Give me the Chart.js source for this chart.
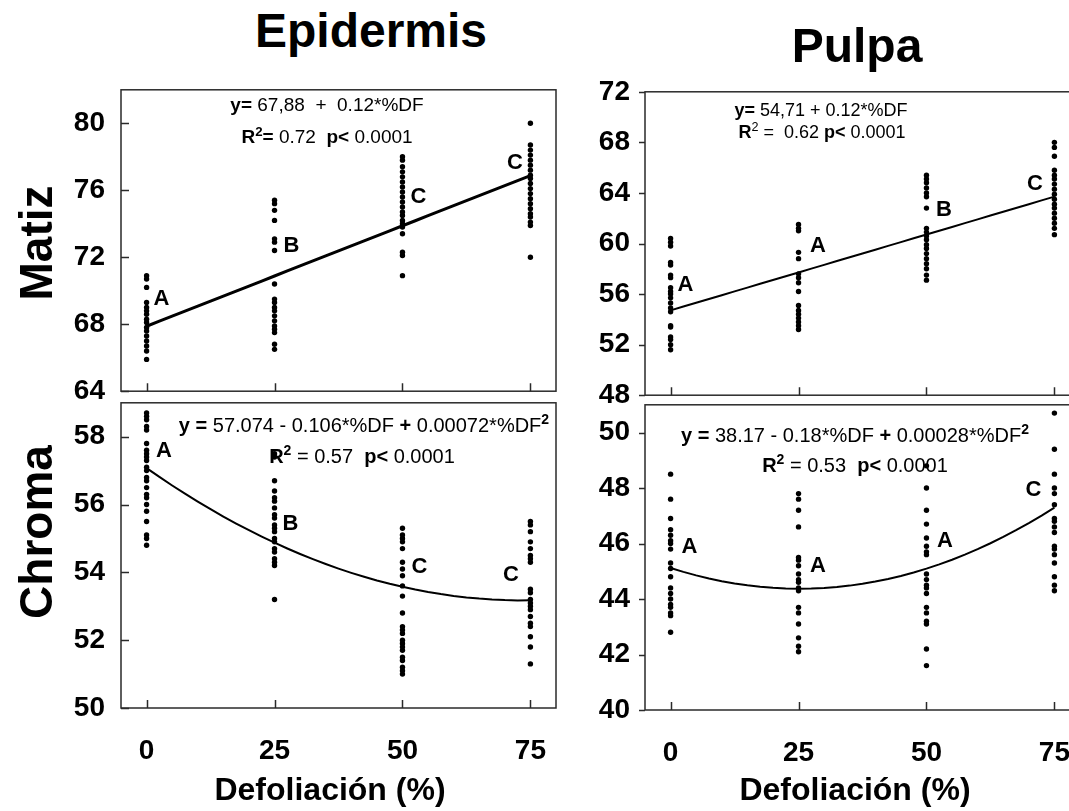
<!DOCTYPE html>
<html>
<head>
<meta charset="utf-8">
<script src="https://cdn.jsdelivr.net/npm/chart.js@4.4.1/dist/chart.umd.min.js"></script>
<style>
  body { margin: 0; background: #fff; }
  #page { position: relative; width: 1069px; height: 811px; overflow: hidden; background: #fff;
          font-family: "Liberation Sans", Arial, sans-serif; color: #000; }
  #page canvas { position: absolute; }
  .txt { position: absolute; line-height: 1; white-space: pre; transform: translateX(-50%); }
  .rot { position: absolute; line-height: 1; white-space: pre; font-weight: bold;
         transform: translate(-50%, -50%) rotate(-90deg); }
  .txt b, .rot b { font-weight: bold; }
  sup { font-size: 0.7em; vertical-align: 0.55em; line-height: 0; }
</style>
</head>
<body>
<div id="page"></div>
<script>
// Defoliation levels (%)
const doses = [0, 25, 50, 75];

// Matiz, epidermis (one list per defoliation level)
const epiMatiz = [
  [70.9, 70.7, 70.2, 69.3, 69.0, 68.8, 68.6, 68.3, 68.1, 67.8, 67.6, 67.3, 67.0, 66.7, 66.4, 65.9],
  [75.4, 75.2, 74.8, 74.2, 73.1, 72.9, 72.4, 70.4, 69.5, 69.3, 69.0, 68.8, 68.5, 68.2, 67.9, 67.7, 67.5, 66.8, 66.5],
  [78.0, 77.8, 77.4, 77.1, 76.8, 76.5, 76.2, 75.9, 75.6, 75.3, 75.0, 74.7, 74.5, 74.2, 74.0, 73.8, 73.4, 72.3, 72.1, 70.9],
  [80.0, 78.7, 78.4, 78.1, 77.8, 77.5, 77.2, 76.9, 76.7, 76.4, 76.1, 75.8, 75.5, 75.2, 74.9, 74.6, 74.4, 74.1, 73.9, 72.0]
];
// Chroma, epidermis
const epiChroma = [
  [58.7, 58.6, 58.5, 58.3, 58.2, 57.8, 57.6, 57.5, 57.4, 57.3, 57.1, 57.0, 56.8, 56.7, 56.5, 56.3, 56.2, 56.0, 55.8, 55.5, 55.1, 55.0, 54.8],
  [57.5, 57.4, 56.7, 56.4, 56.2, 56.1, 55.9, 55.7, 55.6, 55.4, 55.3, 55.2, 55.0, 54.9, 54.7, 54.6, 54.4, 54.3, 54.2, 53.2],
  [55.3, 55.1, 55.0, 54.9, 54.7, 54.3, 54.1, 53.9, 53.6, 53.3, 52.8, 52.4, 52.3, 52.2, 52.0, 51.9, 51.8, 51.7, 51.5, 51.4, 51.2, 51.1, 51.0],
  [55.5, 55.4, 55.2, 54.9, 54.7, 54.5, 54.4, 54.3, 53.5, 53.4, 53.2, 53.1, 53.0, 52.9, 52.7, 52.5, 52.4, 52.1, 51.8, 51.3]
];
// Matiz, pulpa
const pulMatiz = [
  [60.4, 60.1, 59.8, 58.5, 58.3, 57.5, 57.3, 56.5, 56.2, 56.0, 55.7, 55.3, 54.9, 54.6, 53.5, 53.4, 52.6, 52.4, 52.0, 51.6],
  [61.5, 61.2, 61.0, 59.3, 58.8, 57.6, 57.3, 56.9, 56.2, 55.1, 54.7, 54.4, 54.1, 53.8, 53.5, 53.2],
  [65.4, 65.1, 64.8, 64.4, 64.0, 63.7, 62.8, 61.2, 60.9, 60.6, 60.3, 59.9, 59.6, 59.2, 58.8, 58.4, 58.0, 57.5, 57.1],
  [68.0, 67.6, 66.9, 65.8, 65.4, 65.1, 64.7, 64.3, 63.9, 63.5, 63.1, 62.8, 62.4, 62.0, 61.6, 61.2, 60.7]
];
// Chroma, pulpa
const pulChroma = [
  [48.5, 47.6, 46.9, 46.5, 46.3, 46.1, 46.0, 45.8, 45.3, 45.1, 44.8, 44.4, 44.2, 44.0, 43.8, 43.7, 43.5, 43.4, 42.8],
  [47.8, 47.6, 47.2, 46.6, 45.5, 45.4, 45.2, 44.9, 44.7, 44.6, 44.4, 44.3, 43.7, 43.5, 43.1, 42.6, 42.3, 42.1],
  [48.8, 48.0, 47.2, 46.7, 46.2, 45.9, 45.7, 45.6, 44.9, 44.7, 44.5, 44.4, 44.2, 43.7, 43.5, 43.2, 43.1, 42.2, 41.6],
  [50.7, 49.4, 48.5, 48.0, 47.8, 47.4, 46.9, 46.8, 46.6, 46.4, 45.9, 45.8, 45.6, 45.3, 44.8, 44.5, 44.3]
];

// Regression coefficients [a, b, c] for y = a + b*DF + c*DF^2
const epiMatizFit = [67.88, 0.12, 0];
const epiChromaFit = [57.074, -0.106, 0.00072];
const pulMatizFit = [54.71, 0.12, 0];
const pulChromaFit = [45.12, -0.0595, 0.00118];

// Mean separation letters
const epiMatizLetters = ['A', 'B', 'C', 'C'];
const epiChromaLetters = ['A', 'B', 'C', 'C'];
const pulMatizLetters = ['A', 'A', 'B', 'C'];
const pulChromaLetters = ['A', 'A', 'A', 'C'];

// Y tick ranges
const epiMatizTicks = [64, 82, 4];
const epiChromaTicks = [50, 59, 2];
const pulMatizTicks = [48, 72, 4];
const pulChromaTicks = [40, 51, 2];

const FONT = '"Liberation Sans", Arial, sans-serif';
const page = document.getElementById('page');

const panels = [
  { area: { left: 121, top: 81, right: 556, bottom: 394 }, groups: epiMatiz, fit: epiMatizFit, yt: epiMatizTicks,
    letters: epiMatizLetters, letterAt: [[2.9, 69.5], [28.3, 72.7], [53.1, 75.6], [72.0, 77.65]],
    showX: false, yOut: false, lineWidth: 3 },
  { area: { left: 121, top: 394, right: 556, bottom: 708 }, groups: epiChroma, fit: epiChromaFit, yt: epiChromaTicks,
    letters: epiChromaLetters, letterAt: [[3.4, 57.57], [28.1, 55.43], [53.3, 54.15], [71.2, 53.91]],
    showX: true, yOut: false, lineWidth: 2 },
  { area: { left: 645, top: 84, right: 1080, bottom: 397 }, groups: pulMatiz, fit: pulMatizFit, yt: pulMatizTicks,
    letters: pulMatizLetters, letterAt: [[2.9, 56.69], [28.8, 59.81], [53.4, 62.62], [71.2, 64.72]],
    showX: false, yOut: true, lineWidth: 2 },
  { area: { left: 645, top: 397, right: 1080, bottom: 710 }, groups: pulChroma, fit: pulChromaFit, yt: pulChromaTicks,
    letters: pulChromaLetters, letterAt: [[3.7, 45.86], [28.8, 45.18], [53.6, 46.09], [70.9, 47.94]],
    showX: true, yOut: true, lineWidth: 2 }
];

// Frame, inward/outward tick marks and letters
const panelDecor = {
  id: 'panelDecor',
  afterDatasetsDraw(chart, args, opts) {
    const { ctx, chartArea: a, scales: { x, y } } = chart;
    ctx.save();
    ctx.strokeStyle = '#2a2a2a';
    ctx.lineWidth = 1.5;
    ctx.strokeRect(a.left, a.top, a.right - a.left, a.bottom - a.top);
    ctx.beginPath();
    x.ticks.forEach(t => {
      const px = Math.round(x.getPixelForValue(t.value)) + 0.5;
      ctx.moveTo(px, a.bottom);
      ctx.lineTo(px, a.bottom - 8);
    });
    y.ticks.forEach(t => {
      const py = Math.round(y.getPixelForValue(t.value)) + 0.5;
      if (opts.yOut) { ctx.moveTo(a.left - 6, py); ctx.lineTo(a.left, py); }
      else { ctx.moveTo(a.left, py); ctx.lineTo(a.left + 8, py); }
    });
    ctx.stroke();
    ctx.fillStyle = '#000';
    ctx.font = 'bold 22px ' + FONT;
    ctx.textAlign = 'center';
    ctx.textBaseline = 'middle';
    opts.letters.forEach((l, i) => {
      const [lx, ly] = opts.letterAt[i];
      ctx.fillText(l, x.getPixelForValue(lx), y.getPixelForValue(ly));
    });
    ctx.restore();
  }
};

function fitCurve(c) {
  const pts = [];
  for (let d = 0; d <= 75; d += 2.5) pts.push({ x: d, y: c[0] + c[1] * d + c[2] * d * d });
  return pts;
}

panels.forEach(p => {
  const padL = 130, padT = 24, padR = 24, padB = p.showX ? 110 : 30;
  const w = p.area.right - p.area.left + padL + padR;
  const h = p.area.bottom - p.area.top + padT + padB;
  const cv = document.createElement('canvas');
  cv.width = w; cv.height = h;
  cv.style.left = (p.area.left - padL) + 'px';
  cv.style.top = (p.area.top - padT) + 'px';
  page.appendChild(cv);

  const pts = [];
  p.groups.forEach((vals, i) => vals.forEach(v => pts.push({ x: doses[i], y: v })));

  new Chart(cv.getContext('2d'), {
    type: 'scatter',
    data: {
      datasets: [
        { data: pts, pointRadius: 2.7, pointBackgroundColor: '#000', pointBorderWidth: 0, showLine: false },
        { data: fitCurve(p.fit), showLine: true, pointRadius: 0, borderColor: '#000',
          borderWidth: p.lineWidth, fill: false, tension: 0 }
      ]
    },
    options: {
      responsive: false,
      animation: false,
      layout: { padding: { left: 0, top: padT, right: padR, bottom: 0 } },
      plugins: {
        legend: { display: false },
        tooltip: { enabled: false },
        panelDecor: { letters: p.letters, letterAt: p.letterAt, yOut: p.yOut }
      },
      scales: {
        x: {
          type: 'linear', min: -5, max: 80,
          grid: { display: false, drawTicks: false },
          border: { display: false },
          ticks: { display: p.showX, stepSize: 25, includeBounds: false, padding: 26, color: '#000',
                   font: { family: FONT, size: 28, weight: 'bold' } },
          afterFit: s => { s.height = padB; }
        },
        y: {
          min: p.yt[0], max: p.yt[1],
          grid: { display: false, drawTicks: false },
          border: { display: false },
          ticks: { stepSize: p.yt[2], includeBounds: false, padding: p.yOut ? 15 : 16, color: '#000',
                   font: { family: FONT, size: 28, weight: 'bold' } },
          afterFit: s => { s.width = padL; }
        }
      }
    },
    plugins: [panelDecor]
  });
});

// Titles, axis names and regression equations
function addText(html, cx, baseline, size, bold) {
  const d = document.createElement('div');
  d.className = 'txt';
  d.innerHTML = html;
  d.style.left = cx + 'px';
  d.style.top = (baseline - 0.85 * size) + 'px';
  d.style.fontSize = size + 'px';
  if (bold) d.style.fontWeight = 'bold';
  page.appendChild(d);
}
function addRotated(text, cx, cy, size) {
  const d = document.createElement('div');
  d.className = 'rot';
  d.textContent = text;
  d.style.left = cx + 'px';
  d.style.top = cy + 'px';
  d.style.fontSize = size + 'px';
  page.appendChild(d);
}

addText('Epidermis', 371, 48, 48, true);
addText('Pulpa', 857, 63, 48, true);
addRotated('Matiz', 36, 243, 46);
addRotated('Chroma', 36, 532, 46);
addText('Defoliación (%)', 330, 800, 32, true);
addText('Defoliación (%)', 855, 800, 32, true);

addText('<b>y=</b> 67,88  +  0.12*%DF', 327, 111, 19, false);
addText('<b>R<sup>2</sup>=</b> 0.72  <b>p&lt;</b> 0.0001', 327, 143, 19, false);
addText('<b>y =</b> 57.074 - 0.106*%DF <b>+</b> 0.00072*%DF<b><sup>2</sup></b>', 364, 432, 20, false);
addText('<b>R<sup>2</sup></b> = 0.57  <b>p&lt;</b> 0.0001', 362, 463, 20, false);
addText('<b>y=</b> 54,71 + 0.12*%DF', 821, 116, 18, false);
addText('<b>R</b><sup>2</sup> =  0.62 <b>p&lt;</b> 0.0001', 822, 138, 18, false);
addText('<b>y =</b> 38.17 - 0.18*%DF <b>+</b> 0.00028*%DF<b><sup>2</sup></b>', 855, 442, 20, false);
addText('<b>R<sup>2</sup></b> = 0.53  <b>p&lt;</b> 0.0001', 855, 472, 20, false);
</script>
</body>
</html>
